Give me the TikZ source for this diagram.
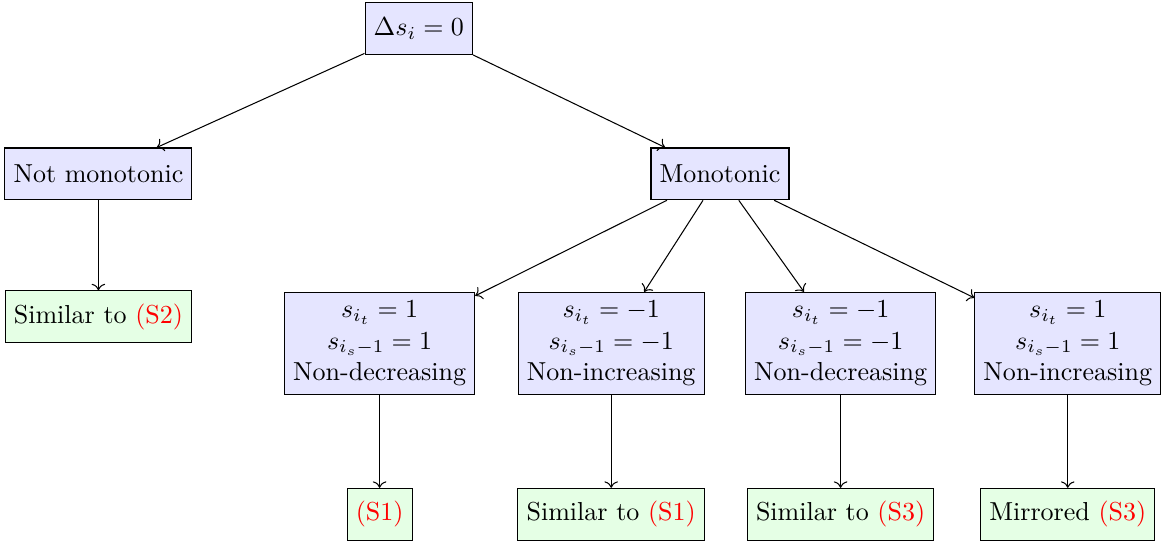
\documentclass[tikz,border=0pt]{standalone}
\usetikzlibrary{arrows.meta}

\tikzset{
  question/.style={draw, fill=blue!10, align=center, minimum height=7mm},
  answer/.style={draw, fill=green!10, minimum height=7mm},
}
\newcommand{\caseref}[1]{\textcolor{red}{(#1)}}

\begin{document}
\begin{tikzpicture}
\useasboundingbox (0,0) rectangle (15.69,-7.34);

\node[question] at (5.66,-0.39) (root) {$\Delta s_i = 0$};
\node[question] at (1.33,-2.35) (notmono) {Not monotonic};
\node[question] at (9.73,-2.35) (mono) {Monotonic};
\node[answer] at (1.33,-4.28) (simtwo) {Similar to \caseref{S2}};

\node[question] at (5.13,-4.64) (incone) {$s_{i_t} = 1$\\$s_{i_s-1} = 1$\\Non-decreasing};
\node[question] at (8.26,-4.64) (decone) {$s_{i_t} = -1$\\$s_{i_s-1} = -1$\\Non-increasing};
\node[question] at (11.36,-4.64) (inctwo) {$s_{i_t} = -1$\\$s_{i_s-1} = -1$\\Non-decreasing};
\node[question] at (14.43,-4.64) (dectwo) {$s_{i_t} = 1$\\$s_{i_s-1} = 1$\\Non-increasing};

\node[answer] at (5.13,-6.95) (sone) {\caseref{S1}};
\node[answer] at (8.26,-6.95) (simone) {Similar to \caseref{S1}};
\node[answer] at (11.36,-6.95) (simthree) {Similar to \caseref{S3}};
\node[answer] at (14.43,-6.95) (mirthree) {Mirrored \caseref{S3}};

\draw[->] (root) -- (notmono);
\draw[->] (root) -- (mono);
\draw[->] (notmono) -- (simtwo);
\draw[->] (mono) -- (incone);
\draw[->] (mono) -- (decone);
\draw[->] (mono) -- (inctwo);
\draw[->] (mono) -- (dectwo);
\draw[->] (incone) -- (sone);
\draw[->] (decone) -- (simone);
\draw[->] (inctwo) -- (simthree);
\draw[->] (dectwo) -- (mirthree);

\end{tikzpicture}
\end{document}
